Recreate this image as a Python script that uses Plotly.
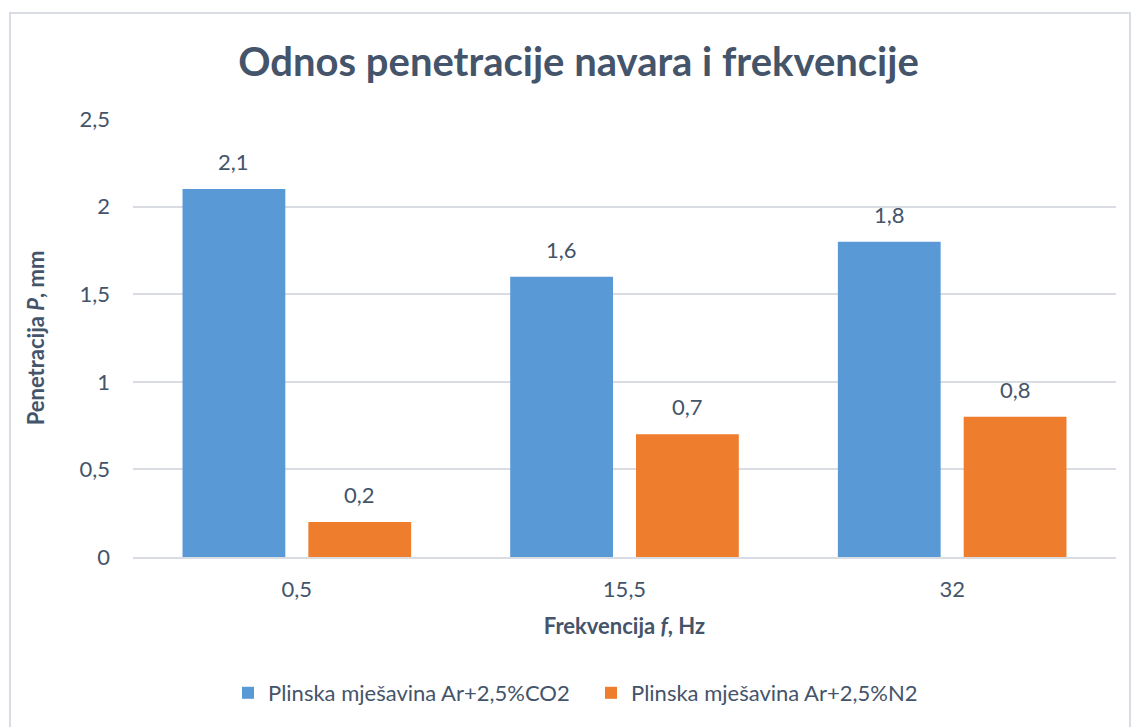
import plotly.graph_objects as go

# Frequency categories (Hz) and penetration depth (mm) for each shielding gas
frequencies = ["0,5", "15,5", "32"]
penetration_co2 = [2.1, 1.6, 1.8]
penetration_n2 = [0.2, 0.7, 0.8]
series_names = ["Plinska mješavina Ar+2,5%CO2", "Plinska mješavina Ar+2,5%N2"]
y_ticks = [0, 0.5, 1, 1.5, 2, 2.5]

TEXT = "#44546A"
GRID = "#D9DDE3"
FONT = "Lato, Carlito, Calibri, sans-serif"

fig = go.Figure()
fig.add_trace(go.Bar(
    x=frequencies, y=penetration_co2, name=series_names[0],
    marker=dict(color="#5899D6", line=dict(width=0)),
))
fig.add_trace(go.Bar(
    x=frequencies, y=penetration_n2, name=series_names[1],
    marker=dict(color="#EF7D2E", line=dict(width=0)),
))

# value labels above each bar (x given as category index)
for values, shift in ((penetration_co2, -63), (penetration_n2, 63)):
    for i, v in enumerate(values):
        fig.add_annotation(
            x=i, y=v, xref="x", yref="y",
            text=f"{v:.1f}".replace(".", ","),
            showarrow=False, xshift=shift, yshift=12, yanchor="bottom",
            font=dict(family=FONT, size=22, color=TEXT),
        )

# outer chart frame
fig.add_shape(
    type="rect", xref="paper", yref="paper",
    x0=-0.1251, x1=1.0142, y0=-0.45, y1=1.242,
    line=dict(color=GRID, width=2), fillcolor="rgba(0,0,0,0)", layer="below",
)

fig.update_layout(
    width=1131, height=727,
    margin=dict(l=133, r=15, t=119, b=170),
    paper_bgcolor="white", plot_bgcolor="white",
    separators=", ",
    barmode="group", bargap=0.232, bargroupgap=0.183,
    font=dict(family=FONT, color=TEXT),
    title=dict(
        text="<b>Odnos penetracije navara i frekvencije</b>",
        x=0.5115, xref="container", xanchor="center",
        y=1 - 62 / 727, yref="container", yanchor="middle",
        font=dict(family=FONT, size=40, color=TEXT),
    ),
    xaxis=dict(
        type="category", categoryorder="array", categoryarray=frequencies,
        range=[-0.5, len(frequencies) - 0.5],
        showgrid=False, showline=True, linecolor=GRID, linewidth=1.5,
        ticks="", tickfont=dict(family=FONT, size=22, color=TEXT),
        ticklabelstandoff=12,
        title=dict(text="<b>Frekvencija <i>f</i>, Hz</b>", standoff=17,
                   font=dict(family=FONT, size=22, color=TEXT)),
    ),
    yaxis=dict(
        range=[0, 2.5], tickvals=y_ticks, showgrid=True, gridcolor=GRID,
        gridwidth=1.5, zeroline=False, showline=False, ticks="",
        tickfont=dict(family=FONT, size=22, color=TEXT),
        ticklabelstandoff=22,
        title=dict(text="<b>Penetracija <i>P</i>, mm</b>", standoff=28,
                   font=dict(family=FONT, size=22, color=TEXT)),
    ),
    legend=dict(
        orientation="h", x=(228 - 133) / 983, xanchor="left",
        y=(557 - 693) / 438, yanchor="middle",
        entrywidth=318, entrywidthmode="pixels",
        font=dict(family=FONT, size=22, color=TEXT),
        itemsizing="constant",
    ),
)

fig.write_html("out.html")
